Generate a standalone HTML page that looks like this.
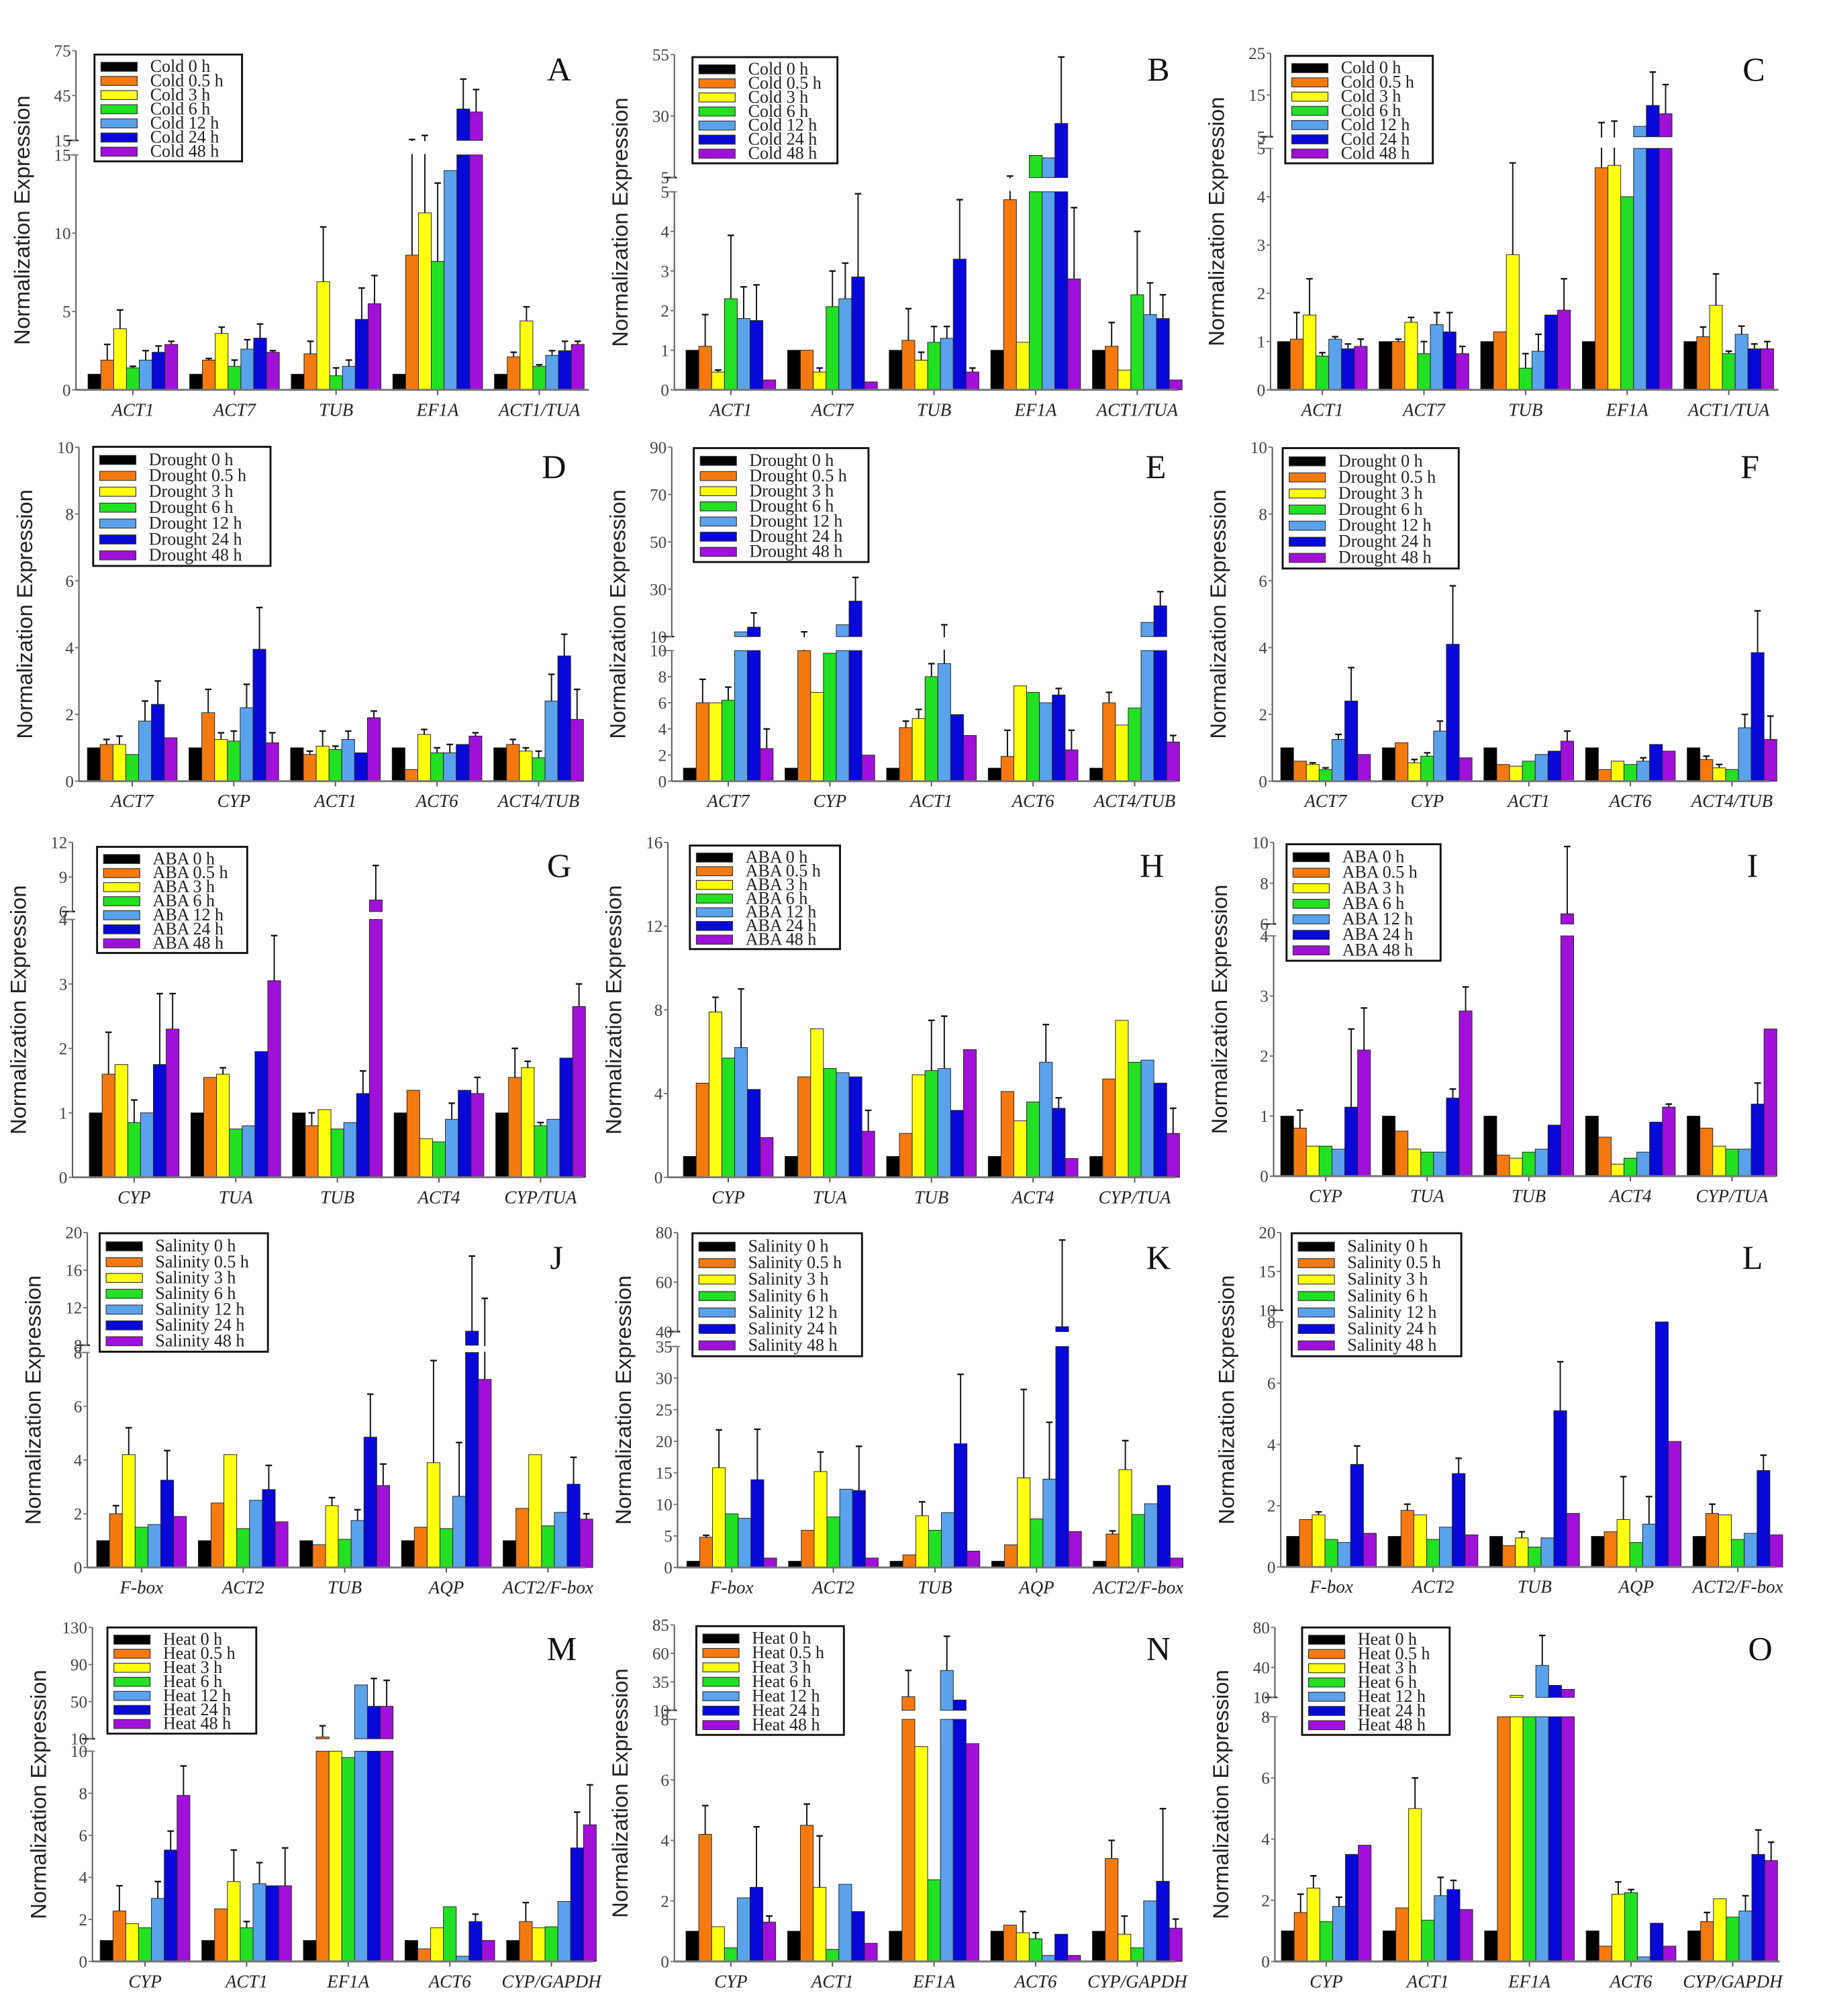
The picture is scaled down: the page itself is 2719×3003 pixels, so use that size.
<!DOCTYPE html>
<html><head><meta charset="utf-8">
<style>
html,body{margin:0;padding:0;background:#fff;}
svg{display:block;}
text{font-family:"Liberation Serif",serif;}
</style></head>
<body>
<svg id="fig" width="2719" height="3003" viewBox="0 0 1410 1557" xmlns="http://www.w3.org/2000/svg"></svg>
<script>
const seriesColors = ["#000000","#f47a10","#ffff10","#22e022","#5aa2ec","#0808d8","#a010d8"];
const timeLabels = ["0 h","0.5 h","3 h","6 h","12 h","24 h","48 h"];
const genesA = ["ACT1","ACT7","TUB","EF1A","ACT1/TUA"];
const genesD = ["ACT7","CYP","ACT1","ACT6","ACT4/TUB"];
const genesG = ["CYP","TUA","TUB","ACT4","CYP/TUA"];
const genesJ = ["F-box","ACT2","TUB","AQP","ACT2/F-box"];
const genesM = ["CYP","ACT1","EF1A","ACT6","CYP/GAPDH"];

const valsA = [[1,1.9,3.9,1.4,1.9,2.4,2.9],[1,1.9,3.6,1.5,2.6,3.3,2.4],[1,2.3,6.9,0.9,1.5,4.5,5.5],[1,8.6,11.3,8.2,14,36,34],[1,2.1,4.4,1.5,2.2,2.5,2.9]];
const errA = [[0,1,1.2,0.1,0.6,0.4,0.2],[0,0.1,0.4,0.4,0.6,0.9,0.1],[0,0.8,3.5,0.5,0.4,2,1.8],[0,7,7,5,0,20,15],[0,0.3,0.9,0.1,0.3,0.6,0.2]];
const valsB = [[1,1.1,0.45,2.3,1.8,1.75,0.25],[1,1,0.45,2.1,2.3,2.85,0.2],[1,1.25,0.75,1.2,1.3,3.3,0.45],[1,4.8,1.2,14,13,27,2.8],[1,1.1,0.5,2.4,1.9,1.8,0.25]];
const errB = [[0,0.8,0.05,1.6,0.8,0.9,0],[0,0,0.1,0.9,0.9,2.1,0],[0,0.8,0.2,0.4,0.3,1.5,0.1],[0,0.8,0,0,0,27,1.8],[0,0.6,0,1.6,0.8,0.6,0]];
const valsC = [[1,1.05,1.55,0.7,1.05,0.85,0.9],[1,1.0,1.4,0.75,1.35,1.2,0.75],[1,1.2,2.8,0.45,0.8,1.55,1.65],[1,4.6,4.65,4.0,7.5,12.5,10.5],[1,1.1,1.75,0.75,1.15,0.85,0.85]];
const errC = [[0,0.55,0.75,0.07,0.05,0.1,0.15],[0,0.05,0.1,0.25,0.25,0.4,0.15],[0,0,1.9,0.3,0.35,0,0.65],[0,3.8,4.1,0,0,8,7],[0,0.2,0.65,0.05,0.17,0.1,0.15]];
const valsD = [[1,1.1,1.1,0.8,1.8,2.3,1.3],[1,2.05,1.25,1.2,2.2,3.95,1.15],[1,0.8,1.05,0.95,1.25,0.85,1.9],[1,0.35,1.4,0.85,0.85,1.1,1.35],[1,1.1,0.9,0.7,2.4,3.75,1.85]];
const errD = [[0,0.15,0.25,0,0.6,0.7,0],[0,0.7,0.2,0.3,0.7,1.25,0.3],[0,0.1,0.45,0.1,0.25,0,0.2],[0,0,0.15,0.15,0.25,0,0.1],[0,0.15,0.1,0.2,0.8,0.65,0.9]];
const valsE = [[1,6,6,6.2,12,14,2.5],[1,10,6.8,9.8,15,25,2],[1,4.1,4.8,8,9,5.1,3.5],[1,1.9,7.3,6.8,6.0,6.6,2.4],[1,6,4.3,5.6,16,23,3.0]];
const errE = [[0,1.8,0,1,0,6,1.5],[0,2,0,0,0,10,0],[0,0.5,0.7,1,6,0,0],[0,2,0,0,0,0.5,1.5],[0,0.8,0,0,0,6,0.5]];
const valsF = [[1,0.6,0.5,0.35,1.25,2.4,0.8],[1,1.15,0.55,0.75,1.5,4.1,0.7],[1,0.5,0.45,0.6,0.8,0.9,1.2],[1,0.35,0.6,0.5,0.6,1.1,0.9],[1,0.65,0.4,0.35,1.6,3.85,1.25]];
const errF = [[0,0,0.05,0.05,0.15,1,0],[0,0,0.1,0.1,0.3,1.75,0],[0,0,0,0,0,0,0.3],[0,0,0,0,0.1,0,0],[0,0.1,0.1,0,0.4,1.25,0.7]];
const valsG = [[1,1.6,1.75,0.85,1.0,1.75,2.3],[1,1.55,1.6,0.75,0.8,1.95,3.05],[1,0.8,1.05,0.75,0.85,1.3,7],[1,1.35,0.6,0.55,0.9,1.35,1.3],[1,1.55,1.7,0.8,0.9,1.85,2.65]];
const errG = [[0,0.65,0,0.35,0,1.1,0.55],[0,0,0.1,0,0,0,0.7],[0,0.2,0,0,0,0.35,3],[0,0,0,0,0.25,0,0.25],[0,0.45,0.1,0.05,0,0,0.35]];
const valsH = [[1,4.5,7.9,5.7,6.2,4.2,1.9],[1,4.8,7.1,5.2,5.0,4.8,2.2],[1,2.1,4.9,5.1,5.2,3.2,6.1],[1,4.1,2.7,3.6,5.5,3.3,0.9],[1,4.7,7.5,5.5,5.6,4.5,2.1]];
const errH = [[0,0,0.7,0,2.8,0,0],[0,0,0,0,0,0,1],[0,0,0,2.4,2.5,0,0],[0,0,0,0,1.8,0.5,0],[0,0,0,0,0,0,1.2]];
const valsI = [[1,0.8,0.5,0.5,0.45,1.15,2.1],[1,0.75,0.45,0.4,0.4,1.3,2.75],[1,0.35,0.3,0.4,0.45,0.85,6.5],[1,0.65,0.2,0.3,0.4,0.9,1.15],[1,0.8,0.5,0.45,0.45,1.2,2.45]];
const errI = [[0,0.3,0,0,0,1.3,0.7],[0,0,0,0,0,0.15,0.4],[0,0,0,0,0,0,3.3],[0,0,0,0,0,0,0.05],[0,0,0,0,0,0.35,0]];
const valsJ = [[1,2,4.2,1.5,1.6,3.25,1.9],[1,2.4,4.2,1.45,2.5,2.9,1.7],[1,0.85,2.3,1.05,1.75,4.85,3.05],[1,1.5,3.9,1.45,2.65,9.5,7],[1,2.2,4.2,1.55,2.05,3.1,1.8]];
const errJ = [[0,0.3,1,0,0,1.1,0],[0,0,0,0,0,0.9,0],[0,0,0.3,0,0.4,1.6,0.8],[0,0,3.8,0,2,8,6],[0,0,0,0,0,1,0.2]];
const valsK = [[1,4.8,15.8,8.5,7.8,13.9,1.5],[1,5.9,15.2,8,12.4,12.2,1.5],[1,2,8.2,5.9,8.7,19.6,2.6],[1,3.6,14.2,7.7,14.0,42,5.7],[1,5.3,15.5,8.4,10.1,13.0,1.5]];
const errK = [[0,0.3,6,0,0,8,0],[0,0,3.1,0,0,7,0],[0,0,2.2,0,0,11,0],[0,0,14,0,9,35,0],[0,0.5,4.6,0,0,0,0]];
const valsL = [[1,1.55,1.7,0.9,0.8,3.35,1.1],[1,1.85,1.7,0.9,1.3,3.05,1.05],[1,0.7,0.95,0.65,0.95,5.1,1.75],[1,1.15,1.55,0.8,1.4,10,4.1],[1,1.75,1.7,0.9,1.1,3.15,1.05]];
const errL = [[0,0,0.1,0,0,0.6,0],[0,0.2,0,0,0,0.5,0],[0,0,0.2,0,0,1.6,0],[0,0,1.4,0,0.9,0,0],[0,0.3,0,0,0,0.5,0]];
const valsM = [[1,2.4,1.8,1.6,3.0,5.3,7.9],[1,2.5,3.8,1.6,3.7,3.6,3.6],[1,12,10,9.7,68,45,45],[1,0.6,1.6,2.6,0.25,1.9,1.0],[1,1.9,1.6,1.65,2.85,5.4,6.5]];
const errM = [[0,1.2,0,0,0.8,0.9,1.4],[0,0,1.5,0.3,1,0,1.8],[0,12,0,0,0,30,28],[0,0,0,0,0,0.35,0],[0,0.9,0,0,0,1.7,1.9]];
const valsN = [[1,4.2,1.15,0.45,2.1,2.45,1.3],[1,4.5,2.45,0.4,2.55,1.65,0.6],[1,22,7.1,2.7,45,19,7.2],[1,1.2,0.95,0.75,0.2,0.9,0.2],[1,3.4,0.9,0.45,2.0,2.65,1.1]];
const errN = [[0,0.95,0,0,0,2,0.2],[0,0.7,1.7,0,0,0,0],[0,23,0,0,30,0,0],[0,0,0.7,0.2,0,0,0],[0,0.6,0.6,0,0,2.4,0.3]];
const valsO = [[1,1.6,2.4,1.3,1.8,3.5,3.8],[1,1.75,5,1.35,2.15,2.35,1.7],[1,9.5,12,8,42,22,18],[1,0.5,2.2,2.25,0.15,1.25,0.5],[1,1.3,2.05,1.45,1.65,3.5,3.3]];
const errO = [[0,0.6,0.4,0,0.3,0,0],[0,0,1,0,0.6,0.3,0],[0,0,0,0,30,0,0],[0,0,0.4,0.1,0,0,0],[0,0.3,0,0,0.5,0.8,0.6]];

const ticksLoA=[0,5,10,15], ticksUpA=[15,45,75];
const ticksLoB=[0,1,2,3,4,5], ticksUpB=[5,30,55];
const ticksLoC=[0,1,2,3,4,5], ticksUpC=[5,15,25];
const ticks10=[0,2,4,6,8,10];
const ticksUpE=[10,30,50,70,90];
const ticksLo4=[0,1,2,3,4], ticksUpG=[6,9,12], ticksUpI=[6,8,10];
const ticksH=[0,4,8,12,16];
const ticks8=[0,2,4,6,8], ticksUpJ=[8,12,16,20];
const ticksLoK=[0,5,10,15,20,25,30,35], ticksUpK=[40,60,80];
const ticksUpL=[10,15,20];
const ticksUpM=[10,50,90,130], ticksUpN=[10,35,60,85], ticksUpO=[10,40,80];

const panels = [
 {id:"A",stress:"Cold",genes:genesA,vals:valsA,err:errA,ax:58.7,bx:68,ex:455,b:301,loMax:15,loTop:119.5,up:{min:15,max:75,bot:108.3,top:39},tl:ticksLoA,tu:ticksUpA,leg:[73,42,114,82.5],let:[432,62]},
 {id:"B",stress:"Cold",genes:genesA,vals:valsB,err:errB,ax:521,bx:530,ex:910,b:301,loMax:5,loTop:148,up:{min:5,max:55,bot:137,top:42},tl:ticksLoB,tu:ticksUpB,leg:[535,44,112,82],let:[895,62]},
 {id:"C",stress:"Cold",genes:genesA,vals:valsC,err:errC,ax:981.6,bx:987,ex:1374,b:301,loMax:5,loTop:114.5,up:{min:5,max:25,bot:105.5,top:41},tl:ticksLoC,tu:ticksUpC,leg:[993,43,114,83],let:[1355,62]},
 {id:"D",stress:"Drought",genes:genesD,vals:valsD,err:errD,ax:61,bx:67.5,ex:445,b:603.3,loMax:10,loTop:345.3,tl:ticks10,leg:[72,345,137,92],let:[428,369]},
 {id:"E",stress:"Drought",genes:genesD,vals:valsE,err:errE,ax:519,bx:528,ex:908,b:603.3,loMax:10,loTop:502.4,up:{min:10,max:90,bot:491.6,top:345.3},tl:ticks10,tu:ticksUpE,leg:[536,346,135,88],let:[893,369]},
 {id:"F",stress:"Drought",genes:genesD,vals:valsF,err:errF,ax:983,bx:989.5,ex:1367,b:603.3,loMax:10,loTop:345.3,tl:ticks10,leg:[991,346,136,93],let:[1352,369]},
 {id:"G",stress:"ABA",genes:genesG,vals:valsG,err:errG,ax:56,bx:69,ex:450,b:909.3,loMax:4,loTop:710.1,up:{min:6,max:12,bot:704,top:650.6},tl:ticksLo4,tu:ticksUpG,leg:[75,654,116,82],let:[432,677]},
 {id:"H",stress:"ABA",genes:genesG,vals:valsH,err:errH,ax:516,bx:528,ex:908,b:909.3,loMax:16,loTop:650.6,tl:ticksH,leg:[533,653,116,80],let:[890,677]},
 {id:"I",stress:"ABA",genes:genesG,vals:valsI,err:errI,ax:984,bx:989.5,ex:1372,b:908.4,loMax:4,loTop:722.8,up:{min:6,max:10,bot:713.6,top:650.6},tl:ticksLo4,tu:ticksUpI,leg:[994,652,119,90],let:[1354,677]},
 {id:"J",stress:"Salinity",genes:genesJ,vals:valsJ,err:errJ,ax:67.5,bx:74.7,ex:452,b:1210.7,loMax:8,loTop:1044.6,up:{min:8,max:20,bot:1039,top:952},tl:ticks8,tu:ticksUpJ,leg:[77,952.5,130,91.5],let:[430,980]},
 {id:"K",stress:"Salinity",genes:genesJ,vals:valsK,err:errK,ax:523.5,bx:530.7,ex:912,b:1210.7,loMax:35,loTop:1040,up:{min:40,max:80,bot:1028.5,top:952},tl:ticksLoK,tu:ticksUpK,leg:[535,952.5,131,95],let:[895,980]},
 {id:"L",stress:"Salinity",genes:genesJ,vals:valsL,err:errL,ax:989.5,bx:994,ex:1372,b:1210.3,loMax:8,loTop:1021,up:{min:10,max:20,bot:1012,top:952},tl:ticks8,tu:ticksUpL,leg:[998,952.5,131,95],let:[1354,980]},
 {id:"M",stress:"Heat",genes:genesM,vals:valsM,err:errM,ax:71.4,bx:77.4,ex:458,b:1515,loMax:10,loTop:1352.6,up:{min:10,max:130,bot:1343,top:1257},tl:ticks10,tu:ticksUpM,leg:[83,1257,115,82],let:[434,1282]},
 {id:"N",stress:"Heat",genes:genesM,vals:valsN,err:errN,ax:521,bx:530,ex:908,b:1515,loMax:8,loTop:1328,up:{min:10,max:85,bot:1321,top:1255},tl:ticks8,tu:ticksUpN,leg:[538,1256,114,84],let:[895,1282]},
 {id:"O",stress:"Heat",genes:genesM,vals:valsO,err:errO,ax:985,bx:990,ex:1375,b:1515,loMax:8,loTop:1326,up:{min:10,max:80,bot:1311,top:1257},tl:ticks8,tu:ticksUpO,leg:[1006,1257,114,83],let:[1360,1282]}
];

const NS="http://www.w3.org/2000/svg";
const svg=document.getElementById("fig");
function mk(tag,attrs,parent,txt){const e=document.createElementNS(NS,tag);for(const k in attrs)e.setAttribute(k,attrs[k]);if(txt!==undefined)e.textContent=txt;(parent||svg).appendChild(e);return e;}

panels.forEach(p=>{
  const g=mk("g",{});
  
  
  const yv=v=>{
    if(!p.up||v<=p.loMax) return p.b-Math.min(v,p.loMax)/p.loMax*(p.b-p.loTop);
    if(v<p.up.min) return p.loTop;
    return p.up.bot-(v-p.up.min)/(p.up.max-p.up.min)*(p.up.bot-p.up.top);
  };
  const spacing=78.5, bw=9.9;
  // bars
  p.vals.forEach((arr,gi)=>{
    arr.forEach((v,si)=>{
      const x=p.bx+gi*spacing+si*bw;
      const col=seriesColors[si];
      if(p.up&&v>p.loMax){
        const r1=mk("rect",{x:x,y:p.loTop,width:bw,height:p.b-p.loTop,fill:col,stroke:"#222","stroke-width":0.5},g);
        
        
        if(v>=p.up.min){
          const yt=yv(v);
          const r2=mk("rect",{x:x,y:yt,width:bw,height:p.up.bot-yt,fill:col,stroke:"#222","stroke-width":0.5},g);
          
          
        }
      } else {
        const yt=yv(v);
        const r=mk("rect",{x:x,y:yt,width:bw,height:p.b-yt,fill:col,stroke:"#222","stroke-width":0.5},g);
        
        
      }
      const e=p.err[gi][si];
      if(e>0){
        const y1=yv(v), y2=yv(v+e), cx=x+bw/2;
        const l=mk("line",{x1:cx,x2:cx,y1:y1,y2:y2,stroke:"#111","stroke-width":1},g);
        
        
        mk("line",{x1:cx-2.5,x2:cx+2.5,y1:y2,y2:y2,stroke:"#111","stroke-width":1.2},g);
      }
    });
    const lab=mk("text",{x:p.bx+gi*spacing+3.5*bw,y:p.b+20,"text-anchor":"middle","font-size":14,"font-style":"italic",fill:"#222"},g,p.genes[gi]);
    
    
    mk("line",{x1:p.bx+gi*spacing+3.5*bw,x2:p.bx+gi*spacing+3.5*bw,y1:p.b,y2:p.b+4,stroke:"#555","stroke-width":1},g);
  });
  // gap through broken bars
  if(p.up){
    const gap=mk("rect",{x:p.ax+2,y:p.up.bot+0.6,width:p.ex-p.ax-2,height:p.loTop-p.up.bot-1.2,fill:"#fff"},g);
    
    
  }
  // x axis
  const xa=mk("line",{x1:p.ax,x2:p.ex,y1:p.b,y2:p.b,stroke:"#777","stroke-width":1.5},g);
  
  
  // y axis
  const yTopLo=p.loTop;
  const ya=mk("line",{x1:p.ax,x2:p.ax,y1:p.b,y2:yTopLo,stroke:"#555","stroke-width":1},g);
  
  
  if(p.up){
    mk("line",{x1:p.ax,x2:p.ax,y1:p.up.bot,y2:p.up.top,stroke:"#555","stroke-width":1},g);
    mk("line",{x1:p.ax-8,x2:p.ax+2,y1:p.up.bot,y2:p.up.bot,stroke:"#222","stroke-width":1.2},g);
    mk("line",{x1:p.ax-8,x2:p.ax+2,y1:p.loTop,y2:p.loTop,stroke:"#888","stroke-width":1},g);
  }
  p.tl.forEach(t=>{
    const y=yv(t);
    mk("line",{x1:p.ax-3,x2:p.ax,y1:y,y2:y,stroke:"#777","stroke-width":1},g);
    const tx=mk("text",{x:p.ax-4,y:y+4.5,"text-anchor":"end","font-size":13,fill:"#444"},g,String(t));
    
    
  });
  if(p.up) p.tu.forEach(t=>{
    const y=p.up.bot-(t-p.up.min)/(p.up.max-p.up.min)*(p.up.bot-p.up.top);
    mk("line",{x1:p.ax-3,x2:p.ax,y1:y,y2:y,stroke:"#777","stroke-width":1},g);
    const tx=mk("text",{x:p.ax-4,y:y+4.5,"text-anchor":"end","font-size":13,fill:"#444"},g,String(t));
    
    
  });
  // y title
  const tcx=p.ax-36, tcy=(p.b+ (p.up?p.up.top:p.loTop))/2;
  const yt=mk("text",{x:tcx,y:tcy,"text-anchor":"middle","font-size":17,fill:"#222",transform:`rotate(-90 ${tcx} ${tcy})`,style:"font-family:'Liberation Sans',sans-serif"},g,"Normalization Expression");
  
  
  // legend
  const [lx,ly,lw,lh]=p.leg;
  const lg=mk("g",{},g);
  
  
  mk("rect",{x:lx,y:ly,width:lw,height:lh,fill:"#fff",stroke:"#111","stroke-width":1.5},lg);
  const rh=(lh-6)/7;
  timeLabels.forEach((tl,i)=>{
    const cy=ly+4+rh*(i+0.5);
    const sw=mk("rect",{x:lx+5,y:cy-3.5,width:28,height:7,fill:seriesColors[i],stroke:"#333","stroke-width":0.6},lg);
    
    
    const t=mk("text",{x:lx+43,y:cy+4,"font-size":13.5,fill:"#222"},lg,p.stress+" "+tl);
    
    
  });
  const L=mk("text",{x:p.let[0],y:p.let[1],"text-anchor":"middle","font-size":26,fill:"#111"},g,p.id);
  
  
});
</script>
</body></html>
